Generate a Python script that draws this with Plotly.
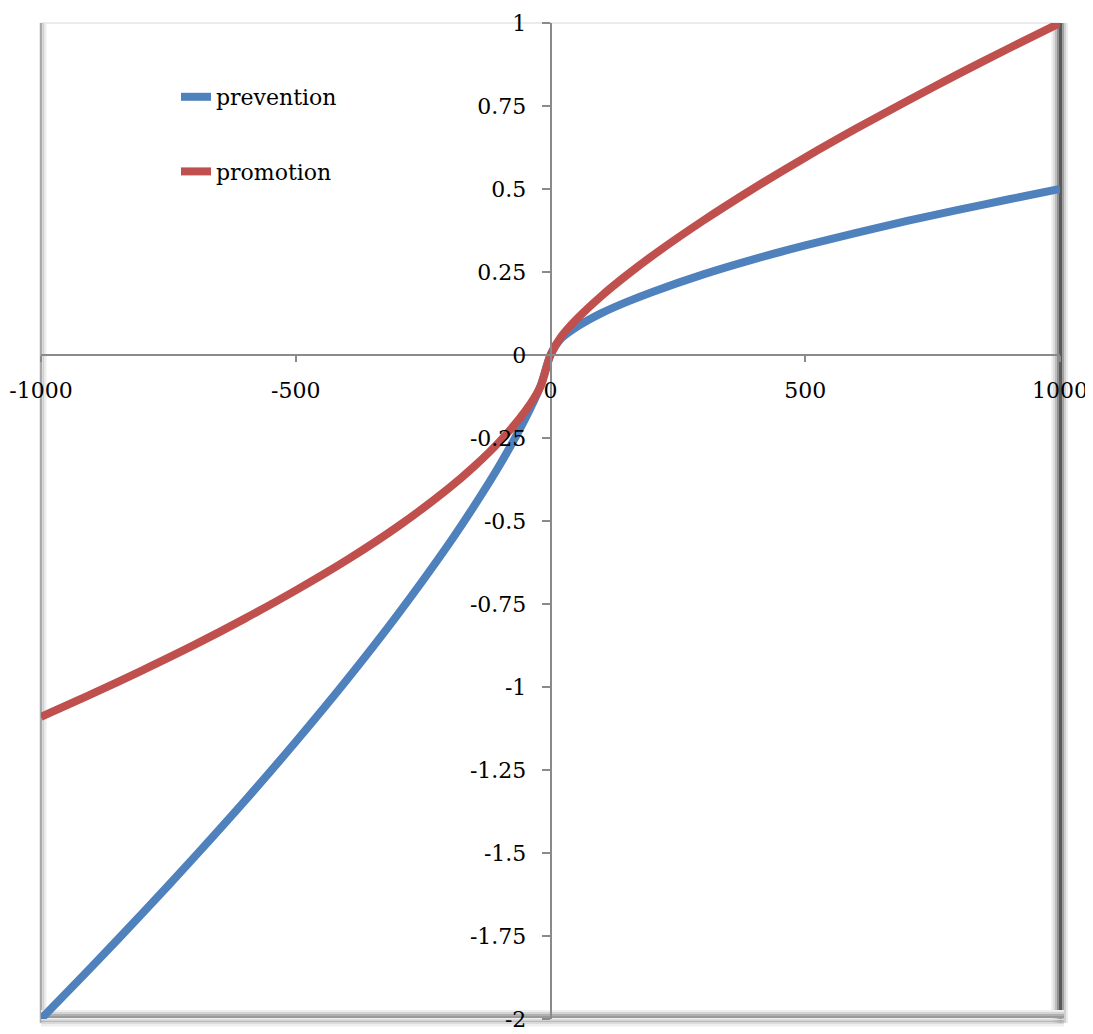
import plotly.graph_objects as go

# ---- data ----
x_vals = [-1000, -900, -800, -700, -600, -500, -400, -300, -200, -150, -100, -50, -20,
          0, 20, 50, 100, 150, 200, 300, 400, 500, 600, 700, 800, 900, 1000]
prevention = [-2.0, -1.842, -1.68, -1.514, -1.343, -1.165, -0.979, -0.782, -0.57, -0.455, -0.332, -0.193, -0.095,
              0.0, 0.048, 0.083, 0.126, 0.16, 0.19, 0.243, 0.289, 0.33, 0.368, 0.404, 0.437, 0.469, 0.5]
promotion = [-1.09, -1.021, -0.949, -0.874, -0.794, -0.709, -0.618, -0.517, -0.402, -0.336, -0.261, -0.17, -0.096,
             0.0, 0.053, 0.106, 0.178, 0.241, 0.299, 0.405, 0.503, 0.595, 0.682, 0.765, 0.846, 0.924, 1.0]
series_names = ["prevention", "promotion"]
series_colors = ["#4F81BD", "#C0504D"]

x_ticks = [-1000, -500, 0, 500, 1000]
x_ticktext = ["-1000", "-500", "0", "500", "1000"]
y_ticks = [1, 0.75, 0.5, 0.25, 0, -0.25, -0.5, -0.75, -1, -1.25, -1.5, -1.75, -2]
y_ticktext = ["1", "0.75", "0.5", "0.25", "0", "-0.25", "-0.5", "-0.75", "-1", "-1.25", "-1.5", "-1.75", "-2"]

# page layout (the html body adds an 8px margin around the figure)
OFF = 8
PAGE_W, PAGE_H = 1093, 1034
W, H = PAGE_W - OFF, PAGE_H - OFF
PLOT_L, PLOT_R, PLOT_T, PLOT_B = 41, 1060, 23, 1019  # page pixels
ML, MR = PLOT_L - OFF, W - (PLOT_R - OFF)
MT, MB = PLOT_T - OFF, H - (PLOT_B - OFF)
PW, PH = PLOT_R - PLOT_L, PLOT_B - PLOT_T
FONT = "DejaVu Serif"


def px_x(p):  # page px -> paper fraction
    return (p - PLOT_L) / PW


def px_y(p):
    return (PLOT_B - p) / PH


fig = go.Figure()
for name, ys, col in zip(series_names, [prevention, promotion], series_colors):
    fig.add_trace(go.Scatter(
        x=x_vals, y=ys, mode="lines", name=name, legendgroup=name,
        line=dict(color=col, width=8, shape="spline", smoothing=0.8),
    ))

# frame / shadow decorations (paper coordinates), drawn beneath traces and labels
shapes = []


def vline(px, color, w):
    shapes.append(dict(type="line", xref="paper", yref="paper",
                       x0=px_x(px), x1=px_x(px), y0=px_y(PLOT_T), y1=px_y(PLOT_B + 4),
                       line=dict(color=color, width=w), layer="below"))


def hline(py, color, w, x0=PLOT_L, x1=PLOT_R + 4):
    shapes.append(dict(type="line", xref="paper", yref="paper",
                       x0=px_x(x0), x1=px_x(x1), y0=px_y(py), y1=px_y(py),
                       line=dict(color=color, width=w), layer="below"))


# top light line
hline(PLOT_T, "#e4e4e4", 1.5, PLOT_L, PLOT_R)
# left border
vline(41, "#a8a8a8", 2.5)
vline(43.5, "#cfcfcf", 2)
vline(45.5, "#ececec", 2)
# right border
vline(1052, "#f0f0f0", 2)
vline(1054, "#dcdcdc", 2)
vline(1056, "#bdbdbd", 2)
vline(1058, "#8f8f8f", 2)
vline(1060.5, "#5a5a5a", 3)
vline(1063, "#a0a0a0", 2)
vline(1065, "#d0d0d0", 2)
vline(1067, "#ececec", 2)
# bottom border
hline(1011, "#eeeeee", 2)
hline(1013, "#d4d4d4", 2)
hline(1015, "#b0b0b0", 2)
hline(1017, "#9a9a9a", 2)
hline(1019.5, "#dedede", 2)
hline(1021.5, "#b8b8b8", 2)
hline(1023.5, "#dadada", 2)
hline(1025.5, "#efefef", 2)

fig.update_layout(
    width=W, height=H,
    margin=dict(l=ML, r=MR, t=MT, b=MB, pad=0),
    paper_bgcolor="white", plot_bgcolor="rgba(0,0,0,0)",
    font=dict(family=FONT, size=22, color="black"),
    shapes=shapes,
    showlegend=True,
    legend=dict(x=px_x(176), y=px_y(76), xanchor="left", yanchor="top",
                bgcolor="rgba(0,0,0,0)", borderwidth=0,
                font=dict(family=FONT, size=22, color="black"),
                tracegroupgap=43, itemwidth=30),
    xaxis=dict(range=[-1000, 1000], tickvals=x_ticks, ticktext=x_ticktext,
               anchor="free", position=2 / 3, showline=True, linecolor="#8a8a8a", linewidth=1.5,
               ticks="outside", ticklen=6, tickcolor="#8a8a8a", tickwidth=1.5,
               showgrid=False, zeroline=False, automargin=False, ticklabelstandoff=10,
               tickfont=dict(family=FONT, size=22, color="black")),
    yaxis=dict(range=[-2, 1], tickvals=y_ticks, ticktext=y_ticktext,
               anchor="free", position=0.5, showline=True, linecolor="#8a8a8a", linewidth=1.5,
               ticks="outside", ticklen=8, tickcolor="#8a8a8a", tickwidth=1.5,
               showgrid=False, zeroline=False, automargin=False, ticklabelstandoff=11,
               tickfont=dict(family=FONT, size=22, color="black")),
)

fig.write_html("out.html")
